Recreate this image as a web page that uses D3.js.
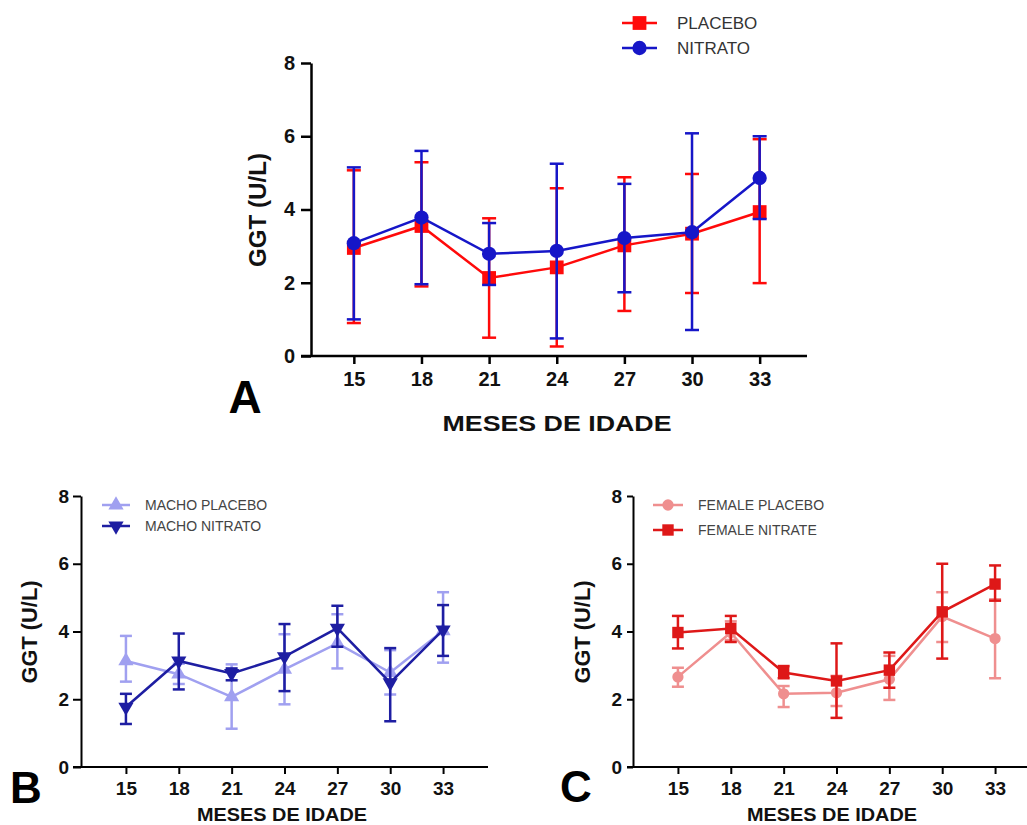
<!DOCTYPE html>
<html>
<head>
<meta charset="utf-8">
<script src="https://cdn.jsdelivr.net/npm/d3@7"></script>
<style>
  body { margin: 0; background: #fff; }
  svg { display: block; }
  text { font-family: "Liberation Sans", Arial, sans-serif; }
</style>
</head>
<body>
<script>
const months = [15, 18, 21, 24, 27, 30, 33];
const yTicks = [0, 2, 4, 6, 8];

// A - all animals
const placeboMean = [2.95, 3.55, 2.13, 2.42, 3.02, 3.34, 3.93];
const placeboLow = [0.9, 1.9, 0.5, 0.26, 1.23, 1.72, 1.99];
const placeboHigh = [5.07, 5.29, 3.76, 4.58, 4.88, 4.97, 5.92];
const nitratoMean = [3.08, 3.78, 2.79, 2.87, 3.22, 3.38, 4.86];
const nitratoLow = [1.0, 1.96, 1.94, 0.48, 1.74, 0.71, 3.74];
const nitratoHigh = [5.15, 5.6, 3.63, 5.25, 4.7, 6.08, 6.0];

// B - males
const machoPlaceboMean = [3.13, 2.74, 2.07, 2.88, 3.65, 2.79, 4.02];
const machoPlaceboLow = [2.52, 2.45, 1.13, 1.85, 2.91, 2.14, 3.08];
const machoPlaceboHigh = [3.87, 3.05, 3.03, 3.92, 4.51, 3.45, 5.16];
const machoNitratoMean = [1.77, 3.13, 2.76, 3.26, 4.1, 2.49, 4.05];
const machoNitratoLow = [1.27, 2.29, 2.56, 2.24, 3.55, 1.35, 3.28];
const machoNitratoHigh = [2.16, 3.94, 2.91, 4.22, 4.76, 3.51, 4.78];

// C - females
const femalePlaceboMean = [2.66, 3.97, 2.16, 2.19, 2.59, 4.44, 3.79];
const femalePlaceboLow = [2.37, 3.75, 1.77, 1.8, 1.98, 3.69, 2.62];
const femalePlaceboHigh = [2.93, 4.3, 2.39, 2.69, 3.28, 5.16, 4.95];
const femaleNitrateMean = [3.97, 4.09, 2.79, 2.54, 2.86, 4.58, 5.4];
const femaleNitrateLow = [3.5, 3.69, 2.62, 1.45, 2.34, 3.2, 4.91];
const femaleNitrateHigh = [4.46, 4.46, 2.98, 3.65, 3.38, 6.0, 5.95];

const W = 1027, H = 825;
const svg = d3.select("body").append("svg")
  .attr("width", W).attr("height", H)
  .attr("viewBox", [0, 0, W, H]);

const zip = (mean, low, high) =>
  months.map((m, i) => ({ x: m, y: mean[i], lo: low[i], hi: high[i] }));

function Panel({
  series = [],
  xDomain = [12.45, 35.55],
  xRange = [0, 100],
  yRange = [100, 0],
  yTickSize = 8,
  yPad = 4,
  xTickSize = 7,
  xPad = 8,
  axisWidth = 2,
  tickFont = 19,
  lineWidth = 2.5,
  capWidth = 12,
  letter = "",
  letterPos = [0, 0],
  letterSize = 44,
  yLabelPos = [0, 0],
  yLabelSize = 22,
  yLabelLength = 103,
  xLabelPos = [0, 0],
  xLabelSize = 19,
  xLabelLength = 170,
  legend = { x: 0, y: 0, dy: 22, len: 28, gap: 15, size: 14, color: "#444" },
} = {}) {
  const x = d3.scaleLinear().domain(xDomain).range(xRange);
  const y = d3.scaleLinear().domain([0, 8]).range(yRange);
  const g = svg.append("g");

  // axes
  const ya = g.append("g")
    .attr("transform", `translate(${xRange[0]},0)`)
    .call(d3.axisLeft(y).tickValues(yTicks).tickSize(yTickSize).tickSizeOuter(0).tickPadding(yPad));
  const xa = g.append("g")
    .attr("transform", `translate(0,${yRange[0]})`)
    .call(d3.axisBottom(x).tickValues(months).tickSize(xTickSize).tickSizeOuter(0).tickPadding(xPad));
  for (const a of [ya, xa]) {
    a.select(".domain").attr("stroke", "#000").attr("stroke-width", axisWidth);
    a.selectAll(".tick line").attr("stroke", "#000").attr("stroke-width", axisWidth);
    a.selectAll(".tick text")
      .attr("fill", "#111")
      .style("font-size", tickFont + "px")
      .style("font-weight", "bold");
  }
  // x axis line reaches under the y ticks
  xa.select(".domain").attr("d", `M${xRange[0] - yTickSize},0H${xRange[1]}`);

  const line = d3.line().x((d) => x(d.x)).y((d) => y(d.y));

  for (const s of series) {
    const sg = g.append("g");
    const pts = s.data;
    sg.append("path")
      .attr("d", line(pts))
      .attr("fill", "none")
      .attr("stroke", s.color)
      .attr("stroke-width", lineWidth);
    const eb = sg.append("g")
      .attr("stroke", s.color)
      .attr("stroke-width", lineWidth);
    eb.selectAll(".v").data(pts).join("line")
      .attr("x1", (d) => x(d.x)).attr("x2", (d) => x(d.x))
      .attr("y1", (d) => y(d.lo)).attr("y2", (d) => y(d.hi));
    eb.selectAll(".capHi").data(pts).join("line")
      .attr("x1", (d) => x(d.x) - capWidth / 2).attr("x2", (d) => x(d.x) + capWidth / 2)
      .attr("y1", (d) => y(d.hi)).attr("y2", (d) => y(d.hi));
    eb.selectAll(".capLo").data(pts).join("line")
      .attr("x1", (d) => x(d.x) - capWidth / 2).attr("x2", (d) => x(d.x) + capWidth / 2)
      .attr("y1", (d) => y(d.lo)).attr("y2", (d) => y(d.lo));
    const sym = d3.symbol().type(s.symbol).size(s.size);
    sg.selectAll(".mk").data(pts).join("path")
      .attr("d", sym())
      .attr("fill", s.color)
      .attr("transform", (d) => `translate(${x(d.x)},${y(d.y)}) rotate(${s.rotate || 0})`);
  }

  // legend
  series.forEach((s, i) => {
    const ly = legend.y + i * legend.dy;
    g.append("line")
      .attr("x1", legend.x).attr("x2", legend.x + legend.len)
      .attr("y1", ly).attr("y2", ly)
      .attr("stroke", s.color).attr("stroke-width", lineWidth);
    g.append("path")
      .attr("d", d3.symbol().type(s.symbol).size(s.size)())
      .attr("fill", s.color)
      .attr("transform", `translate(${legend.x + legend.len / 2},${ly}) rotate(${s.rotate || 0})`);
    g.append("text")
      .attr("x", legend.x + legend.len + legend.gap)
      .attr("y", ly)
      .attr("dy", "0.36em")
      .attr("fill", legend.color)
      .style("font-size", legend.size + "px")
      .text(s.name);
  });

  // titles
  g.append("text")
    .attr("transform", `translate(${yLabelPos[0]},${yLabelPos[1]}) rotate(-90)`)
    .attr("text-anchor", "middle")
    .attr("dy", "0.36em")
    .attr("textLength", yLabelLength)
    .attr("lengthAdjust", "spacingAndGlyphs")
    .style("font-size", yLabelSize + "px")
    .style("font-weight", "bold")
    .attr("fill", "#111")
    .text("GGT (U/L)");
  g.append("text")
    .attr("x", xLabelPos[0]).attr("y", xLabelPos[1])
    .attr("text-anchor", "middle")
    .attr("dy", "0.36em")
    .attr("textLength", xLabelLength)
    .attr("lengthAdjust", "spacingAndGlyphs")
    .style("font-size", xLabelSize + "px")
    .style("font-weight", "bold")
    .attr("fill", "#111")
    .text("MESES DE IDADE");
  g.append("text")
    .attr("x", letterPos[0]).attr("y", letterPos[1])
    .attr("text-anchor", "middle")
    .style("font-size", letterSize + "px")
    .style("font-weight", "bold")
    .attr("fill", "#000")
    .text(letter);
}

Panel({
  series: [
    { name: "PLACEBO", data: zip(placeboMean, placeboLow, placeboHigh), color: "#ff0a0a", symbol: d3.symbolSquare, size: 190 },
    { name: "NITRATO", data: zip(nitratoMean, nitratoLow, nitratoHigh), color: "#1616c8", symbol: d3.symbolCircle, size: 160 },
  ],
  xDomain: [13.1, 35.1],
  xRange: [311, 807],
  yRange: [356, 63],
  yTickSize: 10,
  yPad: 6,
  xTickSize: 8,
  xPad: 8,
  axisWidth: 2.5,
  tickFont: 20,
  lineWidth: 2.5,
  capWidth: 14,
  letter: "A",
  letterPos: [245, 413],
  letterSize: 46,
  yLabelPos: [258, 210],
  yLabelSize: 23,
  yLabelLength: 114,
  xLabelPos: [557, 423],
  xLabelSize: 22,
  xLabelLength: 229,
  legend: { x: 622, y: 23, dy: 25, len: 35, gap: 20, size: 17, color: "#333" },
});

Panel({
  series: [
    { name: "MACHO PLACEBO", data: zip(machoPlaceboMean, machoPlaceboLow, machoPlaceboHigh), color: "#a0a0f0", symbol: d3.symbolTriangle, size: 100 },
    { name: "MACHO NITRATO", data: zip(machoNitratoMean, machoNitratoLow, machoNitratoHigh), color: "#1e1ea2", symbol: d3.symbolTriangle, size: 100, rotate: 180 },
  ],
  xRange: [81, 488],
  yRange: [767, 496],
  letter: "B",
  letterPos: [26, 803],
  yLabelPos: [29, 632],
  xLabelPos: [282, 814],
  legend: { x: 102, y: 505, dy: 21, len: 28, gap: 15, size: 14, color: "#444" },
});

Panel({
  series: [
    { name: "FEMALE PLACEBO", data: zip(femalePlaceboMean, femalePlaceboLow, femalePlaceboHigh), color: "#ef8f8f", symbol: d3.symbolCircle, size: 100 },
    { name: "FEMALE NITRATE", data: zip(femaleNitrateMean, femaleNitrateLow, femaleNitrateHigh), color: "#de1818", symbol: d3.symbolSquare, size: 130 },
  ],
  xRange: [633, 1040],
  yRange: [767, 496],
  yTickSize: 6,
  yPad: 5,
  letter: "C",
  letterPos: [576, 802],
  yLabelPos: [582, 632],
  xLabelPos: [832, 814],
  legend: { x: 653, y: 505, dy: 25, len: 30, gap: 15, size: 14, color: "#444" },
});
</script>
</body>
</html>
